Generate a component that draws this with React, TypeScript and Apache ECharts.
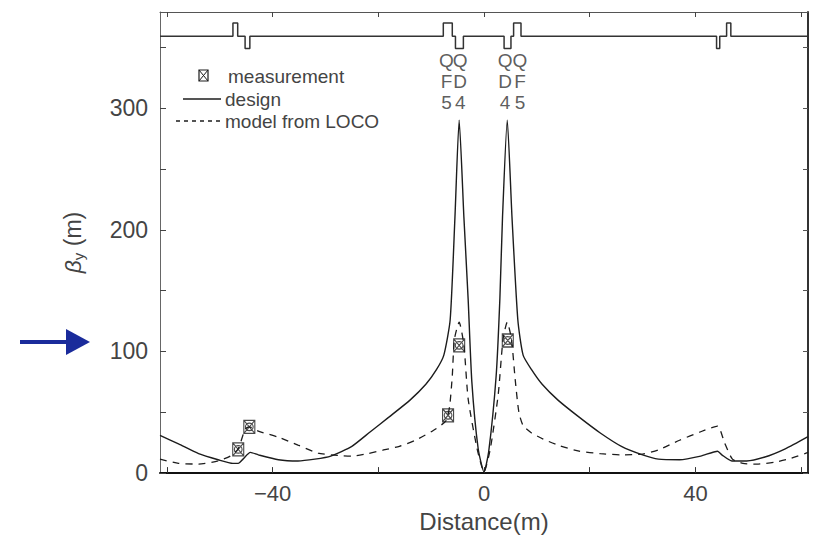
import React, { useEffect, useRef } from "react";
import * as echarts from "echarts";

// ---- data ----
const xRange = [-61.3, 61.3];
const yRange = [0, 379];
const xTickValues = [-60, -40, -20, 0, 20, 40, 60];
const xLabelValues = [-40, 0, 40];
const yTickValues = [0, 50, 100, 150, 200, 250, 300, 350];
const yLabelValues = [0, 100, 200, 300];

// design beta_y (solid)
const designCurve: [number, number][] = [
  [-61.3, 31], [-57.8, 24], [-54, 16], [-50.3, 11], [-47.5, 8], [-46.5, 8], [-45.6, 11.5],
  [-44.2, 17], [-42.7, 15], [-38.9, 11], [-35.2, 10], [-32, 11.5], [-29, 14], [-25, 22],
  [-21.5, 34], [-18, 46], [-14, 60], [-11, 73], [-9, 85], [-7.6, 97], [-6.4, 126],
  [-5.5, 210], [-4.7, 290], [-3.8, 210], [-3.0, 143], [-2.3, 75], [-1.1, 20], [0, 1],
  [0.9, 18], [2.3, 80], [3.0, 143], [3.5, 210], [4.4, 290], [5.3, 210], [6.4, 126],
  [7.4, 97], [9, 85], [11, 73], [14, 60], [18, 46], [22, 33], [26, 22], [30, 15],
  [33, 11.5], [37, 11], [41, 14], [44.2, 18], [45, 15], [46.9, 10], [49.7, 10], [53, 13],
  [57, 20], [61.3, 30],
];

// model from LOCO (dashed)
const locoCurve: [number, number][] = [
  [-61.3, 11.5], [-57.8, 8], [-54, 7.4], [-50.3, 10], [-48, 14], [-46.5, 20], [-45.2, 36],
  [-44.4, 38], [-42.7, 34.5], [-38.9, 29.5], [-35.2, 23], [-31.4, 16.4], [-27.6, 14.5],
  [-25, 14], [-22, 16], [-19, 19], [-16, 22], [-13, 27], [-9.6, 35], [-7.2, 43],
  [-6.5, 55], [-6.0, 80], [-5.6, 110], [-4.7, 124], [-3.8, 105], [-3.0, 61], [-1.3, 20],
  [0, 1], [1.2, 20], [2.7, 65], [3.6, 110], [4.4, 124], [5.2, 110], [5.9, 77], [6.6, 50],
  [7.4, 39], [9, 33], [11.2, 28], [14, 23], [18, 18], [22, 16], [26, 15], [30, 15.6],
  [33, 19], [37, 27], [41, 34], [44.2, 38.6], [45.5, 25], [47, 11.5], [49, 8], [51.6, 7.4],
  [55, 9], [58, 12], [61.3, 17],
];

// measurements
const measurementX = [-46.5, -44.4, -6.8, -4.7, 4.5];
const measurementY = [19.5, 38, 47.5, 105, 109];

// lattice (magnet layout drawn at the top)
const latticeBase = 359;
const latticeUp = 370;
const latticeDown = 349;
const latticeFrom = [-47.5, -45.2, -7.7, -5.4, 3.8, 5.6, 44.0, 45.9];
const latticeTo = [-46.6, -44.3, -6.0, -3.9, 5.1, 7.0, 44.6, 46.7];
const latticeDir = [1, -1, 1, -1, -1, 1, -1, 1];

// magnet name columns
const magnetLabelX = [-7.1, -4.5, 4.0, 6.8];
const magnetLabelY = 322;
const magnetLabels = ["Q\nF\n5", "Q\nD\n4", "Q\nD\n4", "Q\nF\n5"];

const FONT = "'Liberation Sans', Arial, sans-serif";
const INK = "#1c1c1c";
const TEXT = "#444";

const markerPath =
  "path://M0 0H10V12H0Z M0 0L10 12 M10 0L0 12 M1.5 6A3.5 3.5 0 1 1 8.5 6A3.5 3.5 0 1 1 1.5 6";

function buildLattice(): [number, number][] {
  const pts: [number, number][] = [[xRange[0], latticeBase]];
  for (let i = 0; i < latticeFrom.length; i++) {
    const lvl = latticeDir[i] > 0 ? latticeUp : latticeDown;
    pts.push([latticeFrom[i], latticeBase]);
    pts.push([latticeFrom[i], lvl]);
    pts.push([latticeTo[i], lvl]);
    pts.push([latticeTo[i], latticeBase]);
  }
  pts.push([xRange[1], latticeBase]);
  return pts;
}

const textStyle = (text: string) => ({
  text,
  fontFamily: FONT,
  fontSize: 19,
  fill: TEXT,
  align: "left",
  verticalAlign: "middle",
  textAlign: "left",
  textVerticalAlign: "middle",
});

export default function App() {
  const ref = useRef<HTMLDivElement>(null);
  useEffect(() => {
    if (!ref.current) return;
    const chart = echarts.init(ref.current, null, { renderer: "svg" });
    const option: any = {
      animation: false,
      backgroundColor: "#ffffff",
      grid: { left: 160, right: 6, top: 12, bottom: 51, show: false },
      xAxis: [
        {
          type: "value",
          min: xRange[0],
          max: xRange[1],
          position: "bottom",
          name: "Distance(m)",
          nameLocation: "middle",
          nameGap: 34,
          nameTextStyle: { fontFamily: FONT, fontSize: 24, color: TEXT },
          axisLine: { show: true, onZero: false, lineStyle: { color: "#111", width: 2 } },
          axisTick: { show: true, inside: true, length: 6, customValues: xTickValues, lineStyle: { color: "#333" } },
          axisLabel: {
            customValues: xLabelValues,
            fontFamily: FONT,
            fontSize: 22,
            color: TEXT,
            margin: 9,
            formatter: (v: number) => (v < 0 ? "\u2212" + Math.abs(v) : String(v)),
          },
          splitLine: { show: false },
        },
        {
          type: "value",
          min: xRange[0],
          max: xRange[1],
          position: "top",
          axisLine: { show: true, onZero: false, lineStyle: { color: "#555", width: 1 } },
          axisTick: { show: true, inside: true, length: 5, customValues: xTickValues, lineStyle: { color: "#444" } },
          axisLabel: { show: false },
          splitLine: { show: false },
        },
      ],
      yAxis: [
        {
          type: "value",
          min: yRange[0],
          max: yRange[1],
          position: "left",
          name: "{b|\u03b2}{s|y}{m| (m)}",
          nameLocation: "middle",
          nameGap: 74,
          nameRotate: 90,
          nameTextStyle: {
            fontFamily: FONT,
            color: TEXT,
            rich: {
              b: { fontFamily: FONT, fontSize: 23, color: TEXT, fontStyle: "italic" },
              s: { fontFamily: FONT, fontSize: 15, color: TEXT, padding: [12, 0, 0, 0] },
              m: { fontFamily: FONT, fontSize: 23, color: TEXT },
            },
          },
          axisLine: { show: true, onZero: false, lineStyle: { color: "#666", width: 1 } },
          axisTick: { show: true, inside: true, length: 6, customValues: yTickValues, lineStyle: { color: "#444" } },
          axisLabel: { customValues: yLabelValues, fontFamily: FONT, fontSize: 23, color: TEXT, margin: 12 },
          splitLine: { show: false },
        },
        {
          type: "value",
          min: yRange[0],
          max: yRange[1],
          position: "right",
          axisLine: { show: true, onZero: false, lineStyle: { color: "#333", width: 2 } },
          axisTick: { show: true, inside: true, length: 5, customValues: yTickValues, lineStyle: { color: "#555" } },
          axisLabel: { show: false },
          splitLine: { show: false },
        },
      ],
      series: [
        {
          name: "design",
          type: "line",
          data: designCurve,
          showSymbol: false,
          smooth: 0.2,
          lineStyle: { color: INK, width: 1.4 },
          z: 3,
        },
        {
          name: "model from LOCO",
          type: "line",
          data: locoCurve,
          showSymbol: false,
          smooth: 0.2,
          lineStyle: { color: INK, width: 1.3, type: [7, 6] },
          z: 3,
        },
        {
          name: "measurement",
          type: "scatter",
          data: measurementX.map((x, i) => [x, measurementY[i]]),
          symbol: markerPath,
          symbolSize: [11, 13],
          itemStyle: { color: "rgba(0,0,0,0)", borderColor: INK, borderWidth: 1.2 },
          z: 4,
        },
        {
          name: "lattice",
          type: "line",
          data: buildLattice(),
          showSymbol: false,
          lineStyle: { color: "#333", width: 1.5 },
          z: 2,
        },
        {
          name: "magnets",
          type: "scatter",
          data: magnetLabelX.map((x, i) => ({ value: [x, magnetLabelY], label: { formatter: magnetLabels[i] } })),
          symbolSize: 1,
          itemStyle: { color: "rgba(0,0,0,0)" },
          label: {
            show: true,
            position: "inside",
            fontFamily: FONT,
            fontSize: 19,
            lineHeight: 21,
            color: "#333",
          },
          z: 2,
        },
      ],
      graphic: [
        // legend
        { type: "rect", shape: { x: 199, y: 70, width: 9, height: 11 }, style: { fill: "none", stroke: INK, lineWidth: 1.2 } },
        { type: "line", shape: { x1: 199, y1: 70, x2: 208, y2: 81 }, style: { stroke: INK, lineWidth: 1 } },
        { type: "line", shape: { x1: 208, y1: 70, x2: 199, y2: 81 }, style: { stroke: INK, lineWidth: 1 } },
        { type: "text", x: 228, y: 76, style: textStyle("measurement") },
        { type: "line", shape: { x1: 183, y1: 99, x2: 221, y2: 99 }, style: { stroke: INK, lineWidth: 1.4 } },
        { type: "text", x: 225, y: 99, style: textStyle("design") },
        { type: "line", shape: { x1: 176, y1: 121, x2: 221, y2: 121 }, style: { stroke: INK, lineWidth: 1.3, lineDash: [4, 4] } },
        { type: "text", x: 225, y: 121, style: textStyle("model from LOCO") },
        // blue arrow
        { type: "rect", shape: { x: 20, y: 340, width: 48, height: 4 }, style: { fill: "#1a2b9b" } },
        { type: "polygon", shape: { points: [[66, 329], [90, 342], [66, 355]] }, style: { fill: "#1a2b9b" } },
      ],
    };
    chart.setOption(option);
    return () => chart.dispose();
  }, []);
  return <div ref={ref} style={{ position: "fixed", left: 0, top: 0, width: 814, height: 538 }} />;
}
